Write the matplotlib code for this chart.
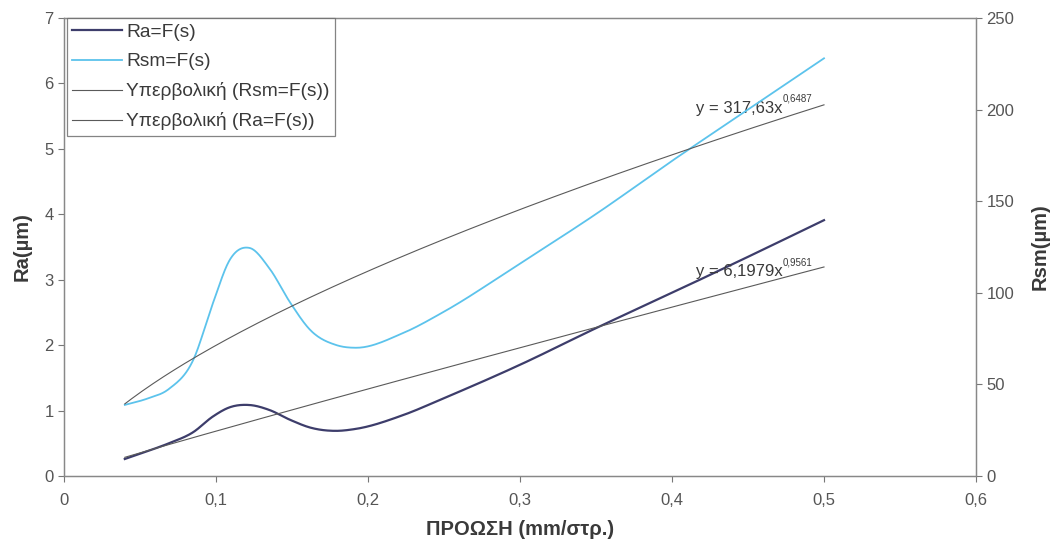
import numpy as np
import matplotlib
matplotlib.use("Agg")
import matplotlib.pyplot as plt
from matplotlib.ticker import FuncFormatter

plt.rcParams["font.family"] = ["Liberation Sans", "DejaVu Sans"]

# data
s = [0.04, 0.055, 0.069, 0.085, 0.098, 0.109, 0.122, 0.135, 0.149, 0.162, 0.179, 0.192,
     0.223, 0.25, 0.30, 0.35, 0.40, 0.45, 0.50]                                   # ΠΡΟΩΣΗ (mm/στρ.)
ra = [0.26, 0.38, 0.50, 0.67, 0.91, 1.05, 1.085, 1.01, 0.856, 0.74, 0.69, 0.72,
      0.93, 1.19, 1.70, 2.26, 2.80, 3.35, 3.91]                                   # Ra (µm)
rsm = [38.8, 42.3, 47.5, 63.3, 94.4, 117.9, 124.5, 113.5, 94.4, 79.7, 71.5, 70.0,
       78.0, 89.7, 116.0, 143.0, 172.0, 200.0, 228.0]                             # Rsm (µm)
# power trendlines as printed on the chart
ra_fit = (6.1979, 0.9561)
rsm_fit = (317.63, 0.6487)
ra_fit_txt = ("y = 6,1979x", "0,9561")
rsm_fit_txt = ("y = 317,63x", "0,6487")

NAVY = "#3d3d6b"; SKY = "#5cc3ec"; GREY = "#5a5a5a"; TXT = "#3a3a3a"

def smooth(x, y, n=25):
    # smoothed line through the points (cubic Hermite, three-point slopes)
    x = np.asarray(x, float); y = np.asarray(y, float)
    h = np.diff(x); d = np.diff(y) / h
    m = np.empty_like(y)
    m[0], m[-1] = d[0], d[-1]
    m[1:-1] = (d[:-1] * h[1:] + d[1:] * h[:-1]) / (h[:-1] + h[1:])
    xs, ys = [], []
    t = np.linspace(0, 1, n)
    for i in range(len(h)):
        h00 = 2 * t**3 - 3 * t**2 + 1; h10 = t**3 - 2 * t**2 + t
        h01 = -2 * t**3 + 3 * t**2; h11 = t**3 - t**2
        xs.extend(x[i] + t * h[i])
        ys.extend(h00 * y[i] + h10 * h[i] * m[i] + h01 * y[i + 1] + h11 * h[i] * m[i + 1])
    return xs, ys

fig = plt.figure(figsize=(10.52, 5.48), dpi=100)
ax = fig.add_axes([64 / 1052, 1 - 476 / 548, (976 - 64) / 1052, (476 - 18) / 548])
ax2 = ax.twinx()

xx = np.linspace(min(s), max(s), 200)
l1, = ax.plot(*smooth(s, ra), color=NAVY, lw=1.6, label="Ra=F(s)")
l4, = ax.plot(xx, ra_fit[0] * xx ** ra_fit[1], color=GREY, lw=0.8, label="Υπερβολική (Ra=F(s))")
l2, = ax2.plot(*smooth(s, rsm), color=SKY, lw=1.3, label="Rsm=F(s)")
l3, = ax2.plot(xx, rsm_fit[0] * xx ** rsm_fit[1], color=GREY, lw=0.8, label="Υπερβολική (Rsm=F(s))")

ax.set_xlim(0, 0.6); ax.set_ylim(0, 7); ax2.set_ylim(0, 250)
ax.set_xticks(np.arange(0, 0.61, 0.1)); ax.set_yticks(range(8)); ax2.set_yticks(range(0, 251, 50))
ax.xaxis.set_major_formatter(FuncFormatter(lambda v, p: ("%g" % round(v, 2)).replace(".", ",")))
for a in (ax, ax2):
    a.tick_params(labelsize=12, colors="#777777", labelcolor="#555555", length=4, width=0.8)
    for sp in a.spines.values():
        sp.set_color("#888888"); sp.set_linewidth(0.9)
ax.tick_params(axis="x", pad=8)

ax.set_xlabel("ΠΡΟΩΣΗ (mm/στρ.)", fontsize=14.5, fontweight="bold", color=TXT, labelpad=9)
ax.set_ylabel("Ra(µm)", fontsize=14.5, fontweight="bold", color=TXT, labelpad=9)
ax2.set_ylabel("Rsm(µm)", fontsize=14.5, fontweight="bold", color=TXT, labelpad=12)

# trendline equations
for (main, sup), yv in ((rsm_fit_txt, 5.62), (ra_fit_txt, 3.12)):
    t = ax.text(0.416, yv, main, fontsize=12, color=TXT, va="center", ha="left", zorder=5)
    ax.annotate(sup, xy=(1, 0.8), xycoords=t, fontsize=7, color=TXT, va="bottom", ha="left")

leg = ax2.legend(handles=[l1, l2, l3, l4], loc="upper left", bbox_to_anchor=(0.003, 1.0),
                 fontsize=13.8, frameon=True, fancybox=False, borderpad=0.3, labelspacing=0.62,
                 handlelength=2.6, handletextpad=0.2, borderaxespad=0)
leg.get_frame().set_edgecolor("#666666"); leg.get_frame().set_linewidth(0.9)
for tx in leg.get_texts():
    tx.set_color(TXT)

fig.savefig("out.png", dpi=100)
